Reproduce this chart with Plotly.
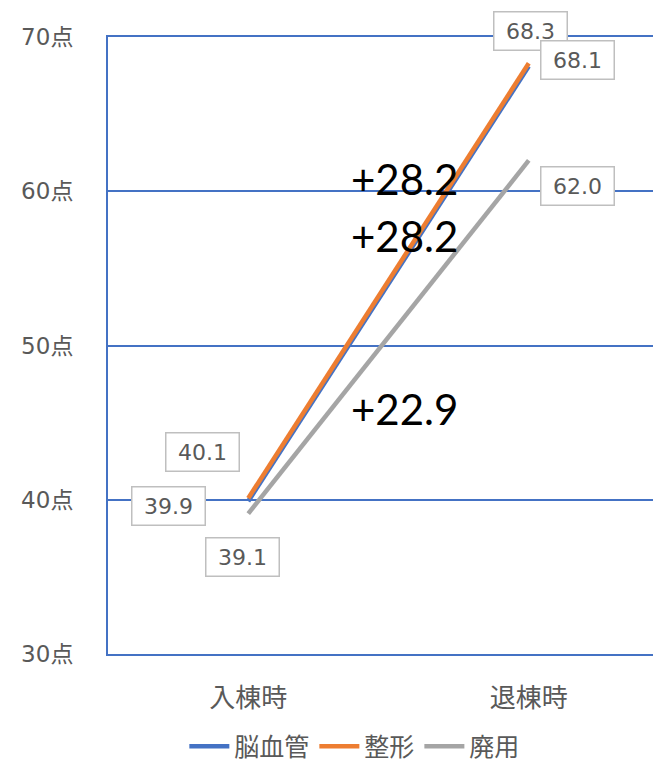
import plotly.graph_objects as go

categories = ["入棟時", "退棟時"]
series_names = ["脳血管", "整形", "廃用"]
nokekkan = [39.9, 68.1]
seikei = [40.1, 68.3]
haiyou = [39.1, 62.0]
y_ticks = [30, 40, 50, 60, 70]

BLUE = "#4472C4"
ORANGE = "#ED7D31"
GRAY = "#A5A5A5"
TEXT = "#595959"
FONT = "DejaVu Sans, Noto Sans CJK JP"
CJK = "Noto Sans CJK JP"

fig = go.Figure()

for name, vals, color in [
    (series_names[0], nokekkan, BLUE),
    (series_names[1], seikei, ORANGE),
    (series_names[2], haiyou, GRAY),
]:
    fig.add_trace(
        go.Scatter(x=categories, y=vals, mode="lines", name=name,
                   line=dict(color=color, width=4.5))
    )

# data labels (offsets in px from each point)
label_specs = [
    (seikei, 0, -46, 46),
    (nokekkan, 0, -80, -5),
    (haiyou, 0, -6, -43),
    (seikei, 1, 2, 32),
    (nokekkan, 1, 49, 6),
    (haiyou, 1, 49, -26),
]
annotations = []
for vals, i, dx, dy in label_specs:
    annotations.append(dict(
        x=categories[i], y=vals[i], xref="x", yref="y",
        text=f"{vals[i]:.1f}", showarrow=False,
        xshift=dx, yshift=dy,
        font=dict(family=FONT, size=22, color=TEXT),
        bgcolor="white", bordercolor="#BFBFBF", borderwidth=1.5,
        borderpad=7, width=58, height=23,
    ))

# differences
for vals, ypos in [(nokekkan, 60.8), (seikei, 57.1), (haiyou, 45.9)]:
    annotations.append(dict(
        x=0.5, y=ypos, xref="x", yref="y", xshift=16,
        text=f"+{vals[1] - vals[0]:.1f}", showarrow=False,
        font=dict(family="Lato", size=42, color="black"),
    ))

fig.update_layout(
    width=661, height=768,
    margin=dict(l=100, r=0, t=29, b=122),
    plot_bgcolor="white", paper_bgcolor="white",
    showlegend=True,
    legend=dict(orientation="h", x=0.44, xanchor="center", y=-0.15,
                yanchor="middle", font=dict(family=CJK, size=25, color=TEXT),
                itemwidth=40, tracegroupgap=0),
    xaxis=dict(type="category", categoryorder="array", categoryarray=categories,
               range=[-0.5, 1.5], showgrid=False, showline=True, mirror=True,
               linecolor=BLUE, linewidth=1.5, ticks="", ticklabelstandoff=20,
               automargin=False,
               tickfont=dict(family=CJK, size=26, color=TEXT)),
    yaxis=dict(range=[30, 70], tickvals=y_ticks,
               ticktext=[f"{v}点" for v in y_ticks],
               showgrid=True, gridcolor=BLUE, gridwidth=1.5, zeroline=False,
               showline=True, linecolor=BLUE, linewidth=2, ticks="",
               ticklabelstandoff=28, automargin=False,
               tickfont=dict(family=FONT, size=23, color=TEXT)),
    annotations=annotations,
)

fig.write_html("out.html")
